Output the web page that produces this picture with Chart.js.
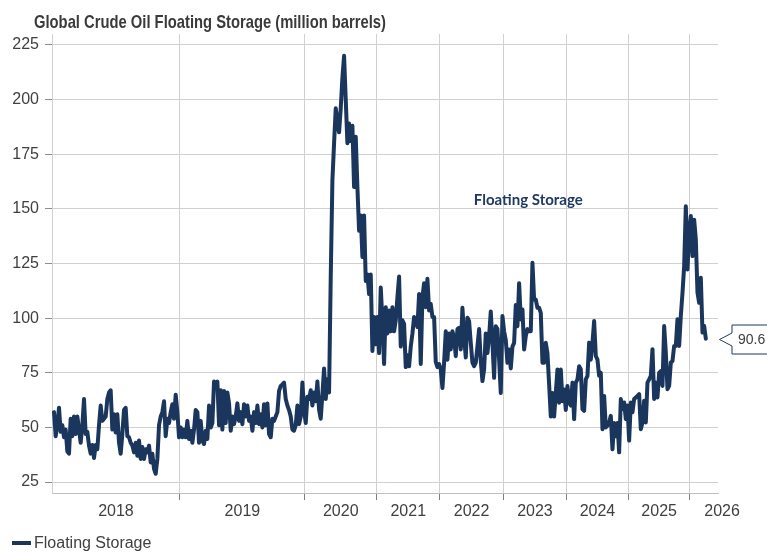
<!DOCTYPE html>
<html>
<head>
<meta charset="utf-8">
<script src="https://cdn.jsdelivr.net/npm/chart.js@4/dist/chart.umd.min.js"></script>
<style>
html,body{margin:0;padding:0;background:#fff;}
#wrap{width:767px;height:552px;position:relative;}
</style>
</head>
<body>
<div id="wrap"><canvas id="c" width="767" height="552"></canvas></div>
<script>
// ---------- texts ----------
const TITLE = 'Global Crude Oil Floating Storage (million barrels)';
const SERIES_NAME = 'Floating Storage';
const yearLabels = ['2018','2019','2020','2021','2022','2023','2024','2025','2026'];
const yTicks = [25, 50, 75, 100, 125, 150, 175, 200, 225];

// ---------- series values (million barrels), one array per labelled year span ----------
const v2018 = [57,46,51,59,48,51,45.5,49,39,38,54,46,55,47,55,49,43,51,63,47,48,41.7,38,42,36,42,40,51,60,53,54,55,63,66,67,49,56,47.7,56,43,38,47,58,59,46,45.5,43,41.7,38.6,43,37,44,35.6,41,35.6,40,38.6,41.7,34,38,31,28.8,35.6,51,55,57,62,46,54,52,57,60.6,54,65,57,45.5];
const v2019 = [50,45.5,49,45.5,53,44.7,48.5,43,49,58,57,43,53,44,42.4,48.5,44.7,60,50,52,71,70,71,51,67,49,66.7,52,66,61,48.5,55,51.5,55,61,53,57,51.5,60.6,55,60,53,55,48.5,57,52,60,51.5,56,50,60.6,51,61,47,45.5,54,53,55,57,66.7,69,69.7,70.5,63,60,58,55,49,48.5,51,60,51.5,55,70.5,58];
const v2020 = [52,64,63,67,60,66,62,71,58,54,65,77,63,72,66,119,163,180,196,190,185,196,210,220,200,180,189,181,188,160,183,160,140,147,128,147,117,120,111,120,85,100.5,88];
const v2021 = [100.5,84,114,99,79,105,93,103.5,94,105,94,99,109.6,119,87,99,97.4,77.6,83,78,87,93,100.5,99,96,111,79,109.6,116,105,118,103.5,106.5,100.5,100.5,80,77.6,79];
const v2022 = [76.5,68,79.6,94,81,93,85.7,94,91,82.6,95,95.6,85.7,104.7,91.8,82,100.2,98.6,88.7,79.6,78,79.6,87,95,80.3,71.2,76.5,93,84,91.8,103,88.7,72.7,96.3,95,81,65.8,101];
const v2023 = [94,90,79.6,85.7,77,87,88.7,106,96.3,116,99.4,104,85.7,91.8,95,94,94,125.3,108.5,108.5,104.7,104.7,102.4,79.6,79.6,88.7,84,69.7,55,65.8,55,65.8,76.5,61.3,76.5,62,67.4,58];
const v2024 = [69,61.4,60,70.5,53.8,70.5,72,78,76.6,58.4,57.6,72,73.6,88.8,81,88.8,98.7,82.7,81,73.6,75,49.2,64.4,50,50.8,52.3,55.3,40,52,46,52,38.6,63,58.4,61.4,53.8,60];
const v2025 = [44,61.4,56.9,63,63.7,64.4,65.2,49.2,52.3,62.2,52.3,70.5,72,73.6,85.8,63,70.5,63.7,75,75.8,69,96.4,84.2,67.5,69,79.7,80.4,87.3,87.3,99.5,87.3,101,111.6,123.8,151.2,122.3,139];
const v2026 = [146.7,128.4,145,136,111.6,107,118.5,93.4,96.4,90.6];

// ---------- derived structures ----------
const segments = [v2018, v2019, v2020, v2021, v2022, v2023, v2024, v2025, v2026];
const values = [].concat(...segments);
const points = values.map((v, i) => ({x: i, y: v}));
const boundaries = [];
let cum = 0;
segments.forEach((s, k) => { cum += s.length; if (k < segments.length - 1) boundaries.push(cum - 0.5); });
const X_MIN = -1.2;
const X_MAX = values.length - 1 + 7.3;
const fullYears = segments.slice(2, 8).map(s => s.length);
const avgYear = fullYears.reduce((a, b) => a + b, 0) / fullYears.length;
const labelCenters = [];
{
  const edges = [X_MIN].concat(boundaries);
  for (let i = 0; i < edges.length - 1; i++) labelCenters.push((edges[i] + edges[i + 1]) / 2);
  labelCenters.push(boundaries[boundaries.length - 1] + avgYear / 2);
}

// ---------- styles ----------
const NAVY = '#1b365d';
const TXT = '#404040';
const GRID = '#d0d0d0';
const FONT = '"Liberation Sans", Arial, sans-serif';

const decor = {
  id: 'decor',
  afterDraw(chart) {
    const ctx = chart.ctx;
    const ca = chart.chartArea;
    ctx.save();
    // title (narrow bold)
    ctx.font = 'bold 19px "Liberation Sans Narrow", "Liberation Sans", Arial, sans-serif';
    const tw = ctx.measureText(TITLE).width;
    const sx = 352 / tw;
    ctx.fillStyle = '#3a3a3a';
    ctx.textBaseline = 'alphabetic';
    ctx.textAlign = 'left';
    ctx.save();
    ctx.translate(34, 28);
    ctx.scale(sx, 1);
    ctx.fillText(TITLE, 0, 0);
    ctx.restore();

    // legend
    ctx.strokeStyle = NAVY;
    ctx.lineWidth = 4;
    ctx.beginPath();
    ctx.moveTo(12, 543); ctx.lineTo(31, 543);
    ctx.stroke();
    ctx.font = '16px ' + FONT;
    ctx.fillStyle = TXT;
    ctx.textBaseline = 'middle';
    ctx.fillText(SERIES_NAME, 34, 543.5);

    // in-chart series label
    const xs = chart.scales.x, ys = chart.scales.y;
    ctx.font = 'bold 15px Lato, "Liberation Sans", sans-serif';
    ctx.fillStyle = '#1f3864';
    ctx.textAlign = 'center';
    ctx.fillText(SERIES_NAME, xs.getPixelForValue(284.5), ys.getPixelForValue(154));

    // last value callout
    const meta = chart.getDatasetMeta(0);
    const last = meta.data[meta.data.length - 1];
    const py = Math.round(last.y) + 0.5;
    const tipX = ca.right + 1.5;
    const bx = tipX + 12.5;
    const half = 14.5;
    ctx.beginPath();
    ctx.moveTo(bx, py - 6.5);
    ctx.lineTo(tipX, py);
    ctx.lineTo(bx, py + 6.5);
    ctx.lineTo(bx, py + half);
    ctx.lineTo(chart.width + 5, py + half);
    ctx.lineTo(chart.width + 5, py - half);
    ctx.lineTo(bx, py - half);
    ctx.closePath();
    ctx.fillStyle = '#ffffff';
    ctx.fill();
    ctx.strokeStyle = '#1f3864';
    ctx.lineWidth = 1;
    ctx.stroke();
    ctx.font = '14px ' + FONT;
    ctx.fillStyle = TXT;
    ctx.textAlign = 'left';
    ctx.textBaseline = 'middle';
    ctx.fillText(values[values.length - 1].toFixed(1), bx + 6, py + 0.5);
    ctx.restore();
  }
};

new Chart(document.getElementById('c'), {
  type: 'line',
  data: {
    datasets: [{
      label: SERIES_NAME,
      data: points,
      borderColor: NAVY,
      backgroundColor: NAVY,
      borderWidth: 4,
      pointRadius: 0,
      tension: 0,
      borderJoinStyle: 'round',
      borderCapStyle: 'round',
      fill: false
    }]
  },
  options: {
    responsive: false,
    animation: false,
    devicePixelRatio: 1,
    layout: {padding: {left: 12, right: 49, top: 34, bottom: 28}},
    plugins: {legend: {display: false}, title: {display: false}, tooltip: {enabled: false}},
    scales: {
      x: {
        type: 'linear', position: 'bottom', weight: 0, min: X_MIN, max: X_MAX,
        afterBuildTicks: s => { s.ticks = boundaries.map(v => ({value: v})); },
        afterFit: s => { s.height = 7; },
        ticks: {display: false},
        grid: {color: GRID, lineWidth: 1, tickLength: 7, tickColor: '#7f7f7f'},
        border: {display: true, color: '#bfbfbf', width: 1}
      },
      xLab: {
        type: 'linear', position: 'bottom', weight: 1, min: X_MIN, max: X_MAX,
        afterBuildTicks: s => { s.ticks = labelCenters.map(v => ({value: v})); },
        afterFit: s => { s.height = 24; },
        ticks: {display: true, autoSkip: false, maxRotation: 0, padding: 2, color: TXT,
                font: {family: FONT, size: 16}, callback: (v, i) => yearLabels[i]},
        grid: {display: false, drawTicks: false, tickLength: 0},
        border: {display: false}
      },
      y: {
        type: 'linear', min: 20, max: 230,
        afterBuildTicks: s => { s.ticks = yTicks.map(v => ({value: v})); },
        afterFit: s => { s.width = 40; },
        ticks: {padding: 6, color: TXT, font: {family: FONT, size: 16}},
        grid: {color: GRID, lineWidth: 1, tickLength: 7, tickColor: '#8c8c8c'},
        border: {display: true, color: '#d0d0d0', width: 1}
      }
    }
  },
  plugins: [decor]
});
</script>
</body>
</html>
